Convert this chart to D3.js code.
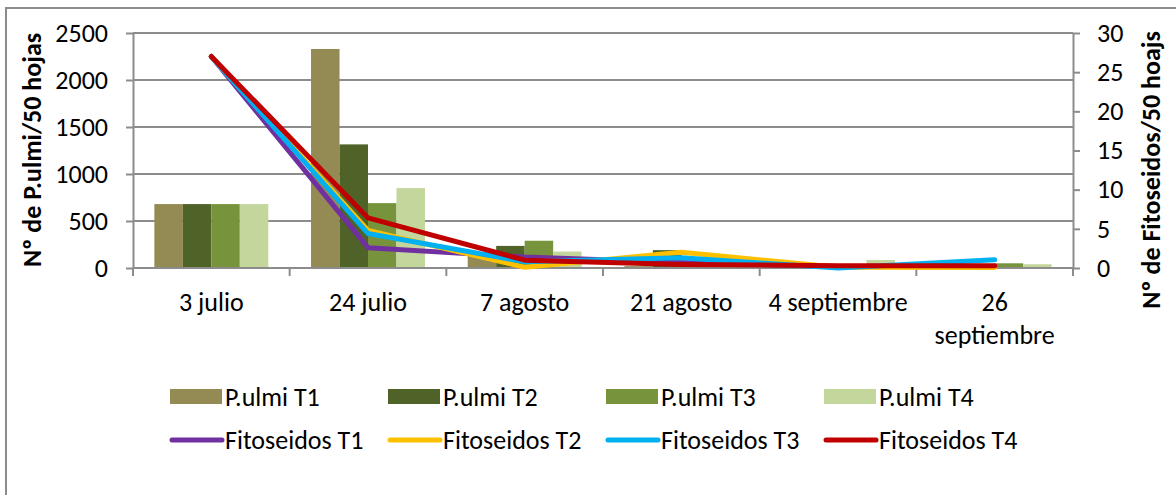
<!DOCTYPE html>
<html>
<head>
<meta charset="utf-8">
<title>P.ulmi y Fitoseidos</title>
<script src="https://d3js.org/d3.v7.min.js"></script>
<style>
body { margin: 0; background: #fff; }
text { font-family: Carlito, Lato, 'Liberation Sans', sans-serif; fill: #000; }
</style>
</head>
<body>
<svg id="chart" width="1176" height="495"></svg>
<script>
// data
var categories = ['3 julio', '24 julio', '7 agosto', '21 agosto', '4 septiembre', '26 septiembre'];

var ulmiNames = ['P.ulmi T1', 'P.ulmi T2', 'P.ulmi T3', 'P.ulmi T4'];
var ulmiT1 = [680, 2330, 130, 20, 20, 20];
var ulmiT2 = [680, 1315, 235, 190, 20, 20];
var ulmiT3 = [680, 690, 290, 60, 20, 50];
var ulmiT4 = [680, 850, 175, 30, 85, 40];
var ulmiColors = ['#948A54', '#4F6228', '#77933C', '#C3D69B'];

var fitoNames = ['Fitoseidos T1', 'Fitoseidos T2', 'Fitoseidos T3', 'Fitoseidos T4'];
var fitoT1 = [27, 2.6, 1.4, 0.7, 0.2, 0.2];
var fitoT2 = [27, 4.8, 0.1, 2.0, 0.1, 0.05];
var fitoT3 = [27, 4.4, 0.8, 1.3, 0.0, 1.05];
var fitoT4 = [27, 6.4, 1.0, 0.45, 0.3, 0.3];
var fitoColors = ['#7030A0', '#FFC000', '#00B0F0', '#C00000'];

var leftTicks = [0, 500, 1000, 1500, 2000, 2500];
var rightTicks = [0, 5, 10, 15, 20, 25, 30];

var leftTitle = 'Nº de P.ulmi/50 hojas';
var rightTitle = 'Nº de Fitoseidos/50 hoajs';

var ulmi = [ulmiT1, ulmiT2, ulmiT3, ulmiT4];
var fito = [fitoT1, fitoT2, fitoT3, fitoT4];

var grey = '#8c8c8c';
var fontSize = 26;
var plot = {left: 133, right: 1073, top: 33, bottom: 268};

var svg = d3.select('#chart');

// outer chart border (runs off the page at right and bottom)
svg.append('rect')
    .attr('x', 6).attr('y', 8)
    .attr('width', 1200).attr('height', 520)
    .attr('fill', 'none').attr('stroke', grey).attr('stroke-width', 2);

var x0 = d3.scaleBand()
    .domain(categories)
    .range([plot.left, plot.right]);

var x1 = d3.scaleBand()
    .domain(ulmiNames)
    .range([0, x0.bandwidth()])
    .paddingOuter(0.75);

var yL = d3.scaleLinear().domain([0, 2500]).range([plot.bottom, plot.top]);
var yR = d3.scaleLinear().domain([0, 30]).range([plot.bottom, plot.top]);

// gridlines
svg.append('g')
    .selectAll('line')
    .data(leftTicks)
    .enter().append('line')
        .attr('x1', plot.left).attr('x2', plot.right)
        .attr('y1', function(d) { return yL(d); })
        .attr('y2', function(d) { return yL(d); })
        .attr('stroke', grey).attr('stroke-width', 2);

// bars
svg.append('g')
    .selectAll('g')
    .data(ulmi)
    .enter().append('g')
        .attr('fill', function(d, i) { return ulmiColors[i]; })
        .selectAll('rect')
        .data(function(d, i) { return d.map(function(v, j) { return {s: i, c: categories[j], v: v}; }); })
        .enter().append('rect')
            .attr('x', function(d) { return x0(d.c) + x1(ulmiNames[d.s]); })
            .attr('y', function(d) { return yL(d.v); })
            .attr('width', x1.bandwidth())
            .attr('height', function(d) { return yL(0) - yL(d.v); });

// axes
function styleAxis(g) {
    g.selectAll('.domain').attr('stroke', grey).attr('stroke-width', 2);
    g.selectAll('.tick line').attr('stroke', grey).attr('stroke-width', 2);
    g.selectAll('.tick text').attr('font-size', fontSize).attr('font-family', null).attr('fill', '#000');
}

svg.append('g')
    .attr('transform', 'translate(' + plot.left + ',0)')
    .call(d3.axisLeft(yL).tickValues(leftTicks).tickFormat(d3.format('d'))
        .tickSize(7).tickSizeOuter(0).tickPadding(18))
    .call(styleAxis);

svg.append('g')
    .attr('transform', 'translate(' + plot.right + ',0)')
    .call(d3.axisRight(yR).tickValues(rightTicks).tickFormat(d3.format('d'))
        .tickSize(7).tickSizeOuter(0).tickPadding(17))
    .call(styleAxis);

// category axis: line, boundary ticks, wrapped labels
var xAxis = svg.append('g');
xAxis.append('line')
    .attr('x1', plot.left).attr('x2', plot.right)
    .attr('y1', plot.bottom).attr('y2', plot.bottom)
    .attr('stroke', grey).attr('stroke-width', 2);

var bounds = categories.map(function(c) { return x0(c); }).concat([x0.range()[1]]);
xAxis.selectAll('line.bound')
    .data(bounds)
    .enter().append('line')
        .attr('class', 'bound')
        .attr('x1', function(d) { return d; }).attr('x2', function(d) { return d; })
        .attr('y1', plot.bottom).attr('y2', plot.bottom + 8)
        .attr('stroke', grey).attr('stroke-width', 2);

var labels = xAxis.selectAll('text.cat')
    .data(categories)
    .enter().append('text')
        .attr('class', 'cat')
        .attr('x', function(d) { return x0(d) + x0.bandwidth() / 2; })
        .attr('y', 311)
        .attr('text-anchor', 'middle')
        .attr('font-size', fontSize)
        .text(function(d) { return d; });

// wrap labels that are too wide for their category, like Excel does
var maxLabel = x0.bandwidth() - 10;
labels.each(function(d) {
    var t = d3.select(this);
    if (this.getComputedTextLength() <= maxLabel) return;
    var words = d.split(' ');
    var cx = t.attr('x');
    t.text(null);
    var line = [], tspan = t.append('tspan').attr('x', cx);
    words.forEach(function(w) {
        line.push(w);
        tspan.text(line.join(' '));
        if (tspan.node().getComputedTextLength() > maxLabel && line.length > 1) {
            line.pop();
            tspan.text(line.join(' '));
            line = [w];
            tspan = t.append('tspan').attr('x', cx).attr('dy', 33).text(w);
        }
    });
});

// fitoseidos lines
var line = d3.line()
    .x(function(d, i) { return x0(categories[i]) + x0.bandwidth() / 2; })
    .y(function(d) { return yR(d); });

svg.append('g')
    .selectAll('path')
    .data(fito)
    .enter().append('path')
        .attr('d', line)
        .attr('fill', 'none')
        .attr('stroke', function(d, i) { return fitoColors[i]; })
        .attr('stroke-width', 5)
        .attr('stroke-linecap', 'round')
        .attr('stroke-linejoin', 'round');

// axis titles
svg.append('text')
    .attr('transform', 'translate(41,150) rotate(-90)')
    .attr('text-anchor', 'middle')
    .attr('font-size', fontSize)
    .attr('font-weight', 'bold')
    .text(leftTitle);

svg.append('text')
    .attr('transform', 'translate(1160,170) rotate(-90)')
    .attr('text-anchor', 'middle')
    .attr('font-size', fontSize)
    .attr('font-weight', 'bold')
    .text(rightTitle);

// legend
var legendX = d3.scalePoint().domain([0, 1, 2, 3]).range([170, 824]);

var leg1 = svg.append('g')
    .selectAll('g')
    .data(ulmiNames)
    .enter().append('g')
        .attr('transform', function(d, i) { return 'translate(' + legendX(i) + ',397)'; });
leg1.append('rect')
    .attr('x', 0).attr('y', -8).attr('width', 52).attr('height', 15)
    .attr('fill', function(d, i) { return ulmiColors[i]; });
leg1.append('text')
    .attr('x', 55).attr('y', 9)
    .attr('font-size', fontSize)
    .text(function(d) { return d; });

var leg2 = svg.append('g')
    .selectAll('g')
    .data(fitoNames)
    .enter().append('g')
        .attr('transform', function(d, i) { return 'translate(' + legendX(i) + ',440)'; });
leg2.append('line')
    .attr('x1', 2).attr('x2', 52).attr('y1', 0).attr('y2', 0)
    .attr('stroke', function(d, i) { return fitoColors[i]; })
    .attr('stroke-width', 5)
    .attr('stroke-linecap', 'round');
leg2.append('text')
    .attr('x', 55).attr('y', 9)
    .attr('font-size', fontSize)
    .text(function(d) { return d; });
</script>
</body>
</html>
